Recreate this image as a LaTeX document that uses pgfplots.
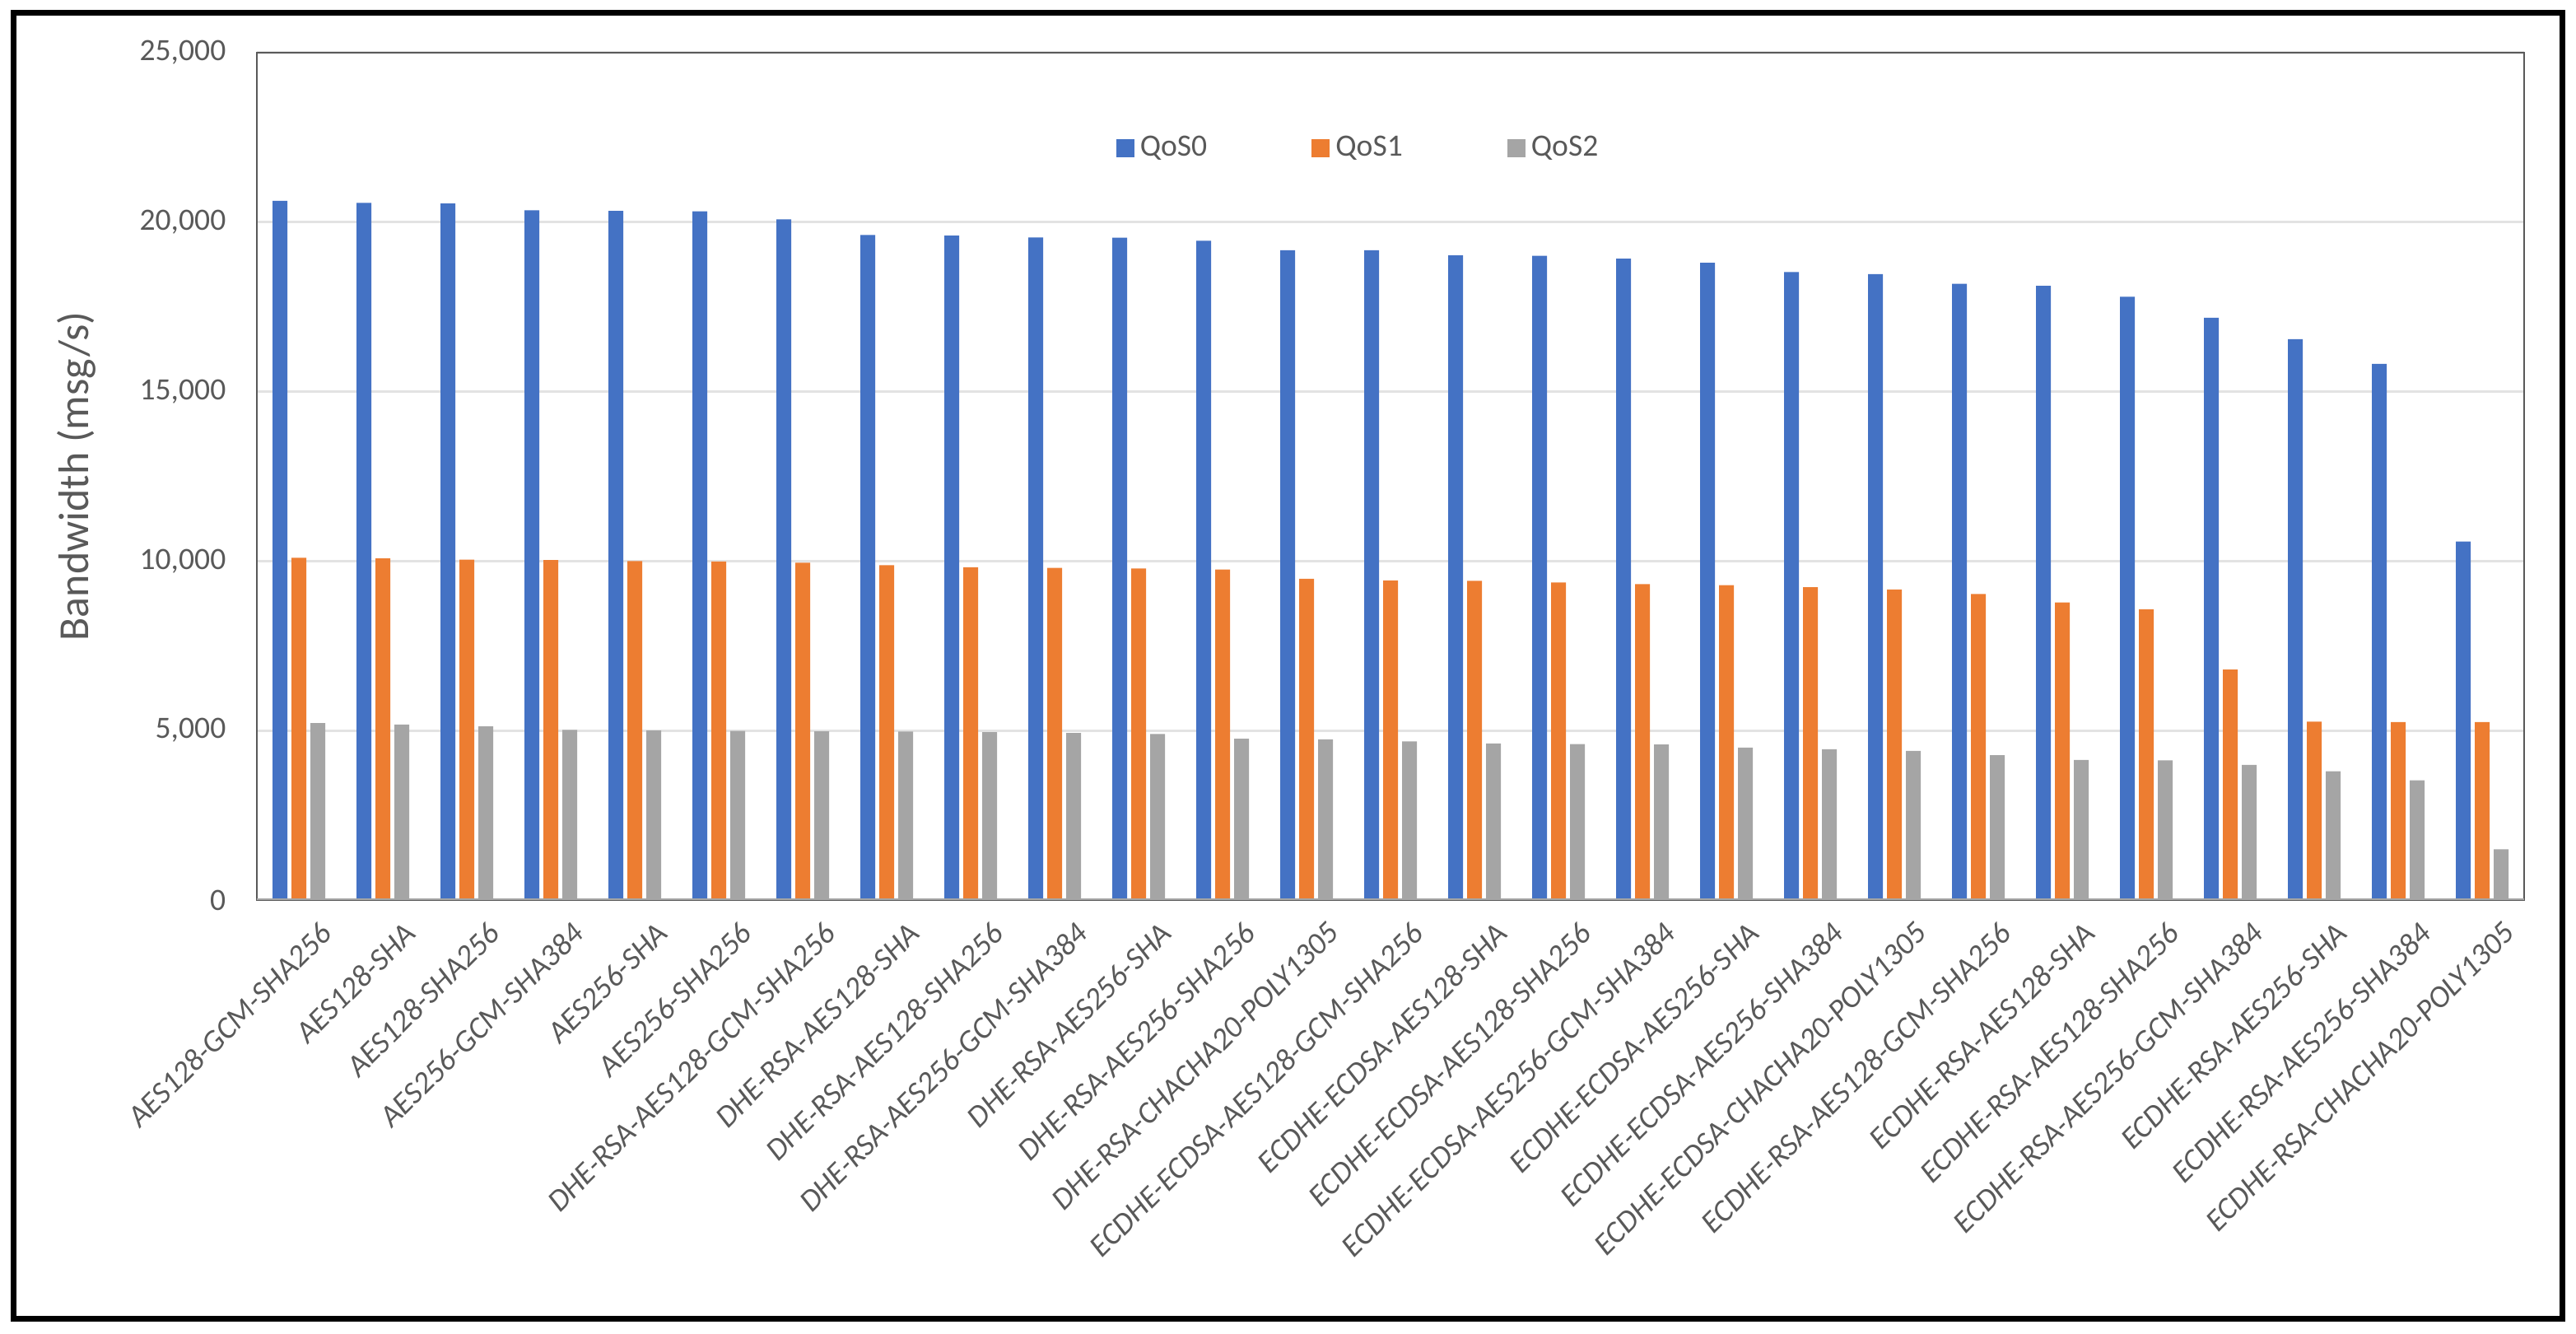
\documentclass[border=0pt]{standalone}
\usepackage{fontspec}
\setmainfont{Carlito}
\usepackage{pgfplots}
\usepackage{pgfplotstable}
\pgfplotsset{compat=1.18}

\definecolor{qzero}{HTML}{4472C4}
\definecolor{qone}{HTML}{ED7D31}
\definecolor{qtwo}{HTML}{A5A5A5}
\definecolor{txtgray}{HTML}{595959}
\definecolor{gridgray}{HTML}{E3E3E3}
\definecolor{framegray}{HTML}{595959}
\definecolor{basegray}{HTML}{A6A6A6}

% bandwidth per cipher suite, msg/s
\pgfplotstableread{
idx qos0  qos1  qos2
0   20630 10100 5220
1   20570 10080 5180
2   20550 10040 5120
3   20350 10030 5020
4   20330 10000 5000
5   20320 9990  4990
6   20080 9950  4980
7   19620 9880  4970
8   19600 9820  4950
9   19550 9800  4930
10  19540 9780  4900
11  19450 9750  4760
12  19170 9480  4740
13  19170 9430  4680
14  19020 9420  4620
15  19010 9370  4600
16  18920 9320  4590
17  18800 9290  4500
18  18530 9230  4450
19  18470 9160  4400
20  18180 9030  4270
21  18120 8780  4130
22  17800 8580  4120
23  17180 6800  3990
24  16550 5260  3800
25  15820 5250  3530
26  10580 5250  1500
}\bw

\begin{document}
\begin{tikzpicture}
\useasboundingbox (0mm,0mm) rectangle (312.9mm,162mm);
\draw[line width=0.7mm] (1.6mm,1.8mm) rectangle (311.2mm,160.4mm);

\begin{axis}[
    at={(31.2mm,52.7mm)}, anchor=south west,
    width=275.4mm, height=102.9mm, scale only axis,
    xmin=-0.5, xmax=26.5,
    ymin=0, ymax=25000,
    ybar=0.5mm, bar width=1.8mm,
    xtick={0,...,26},
    xticklabels={AES128-GCM-SHA256,AES128-SHA,AES128-SHA256,AES256-GCM-SHA384,AES256-SHA,AES256-SHA256,DHE-RSA-AES128-GCM-SHA256,DHE-RSA-AES128-SHA,DHE-RSA-AES128-SHA256,DHE-RSA-AES256-GCM-SHA384,DHE-RSA-AES256-SHA,DHE-RSA-AES256-SHA256,DHE-RSA-CHACHA20-POLY1305,ECDHE-ECDSA-AES128-GCM-SHA256,ECDHE-ECDSA-AES128-SHA,ECDHE-ECDSA-AES128-SHA256,ECDHE-ECDSA-AES256-GCM-SHA384,ECDHE-ECDSA-AES256-SHA,ECDHE-ECDSA-AES256-SHA384,ECDHE-ECDSA-CHACHA20-POLY1305,ECDHE-RSA-AES128-GCM-SHA256,ECDHE-RSA-AES128-SHA,ECDHE-RSA-AES128-SHA256,ECDHE-RSA-AES256-GCM-SHA384,ECDHE-RSA-AES256-SHA,ECDHE-RSA-AES256-SHA384,ECDHE-RSA-CHACHA20-POLY1305},
    ytick={0,5000,...,25000},
    scaled y ticks=false,
    major tick length=0,
    ymajorgrids,
    grid style={draw=gridgray, line width=0.3mm},
    axis line style={draw=framegray, line width=0.2mm},
    /pgf/number format/.cd, fixed, 1000 sep={,}, assume math mode=true, /pgfplots/.cd,
    yticklabel style={font=\fontsize{10.7}{12}\selectfont, text=txtgray, inner sep=0pt, xshift=-3.7mm},
    xticklabel style={font=\fontsize{10.7}{12}\selectfont\itshape, text=txtgray, rotate=45, anchor=north east, inner sep=0pt, yshift=-3.4mm},
    ylabel={Bandwidth (msg/s)},
    ylabel style={at={([xshift=-21.9mm]axis description cs:0,0.5)}, anchor=center, font=\fontsize{14.8}{16}\selectfont, text=txtgray},
    legend columns=3,
    legend style={at={(0.4866,0.887)}, anchor=center, draw=none, fill=none,
        font=\fontsize{10.7}{12}\selectfont, text=txtgray,
        /tikz/every even column/.append style={column sep=12mm}},
    legend image code/.code={\fill[#1] (0mm,-1.1mm) rectangle (2.2mm,1.1mm);},
]
\addplot[fill=qzero, draw=none] table[x=idx, y=qos0] {\bw};
\addlegendentry{QoS0}
\addplot[fill=qone, draw=none] table[x=idx, y=qos1] {\bw};
\addlegendentry{QoS1}
\addplot[fill=qtwo, draw=none] table[x=idx, y=qos2] {\bw};
\addlegendentry{QoS2}
\draw[basegray, line width=0.35mm] (rel axis cs:0,0) -- (rel axis cs:1,0);
\end{axis}
\end{tikzpicture}
\end{document}
